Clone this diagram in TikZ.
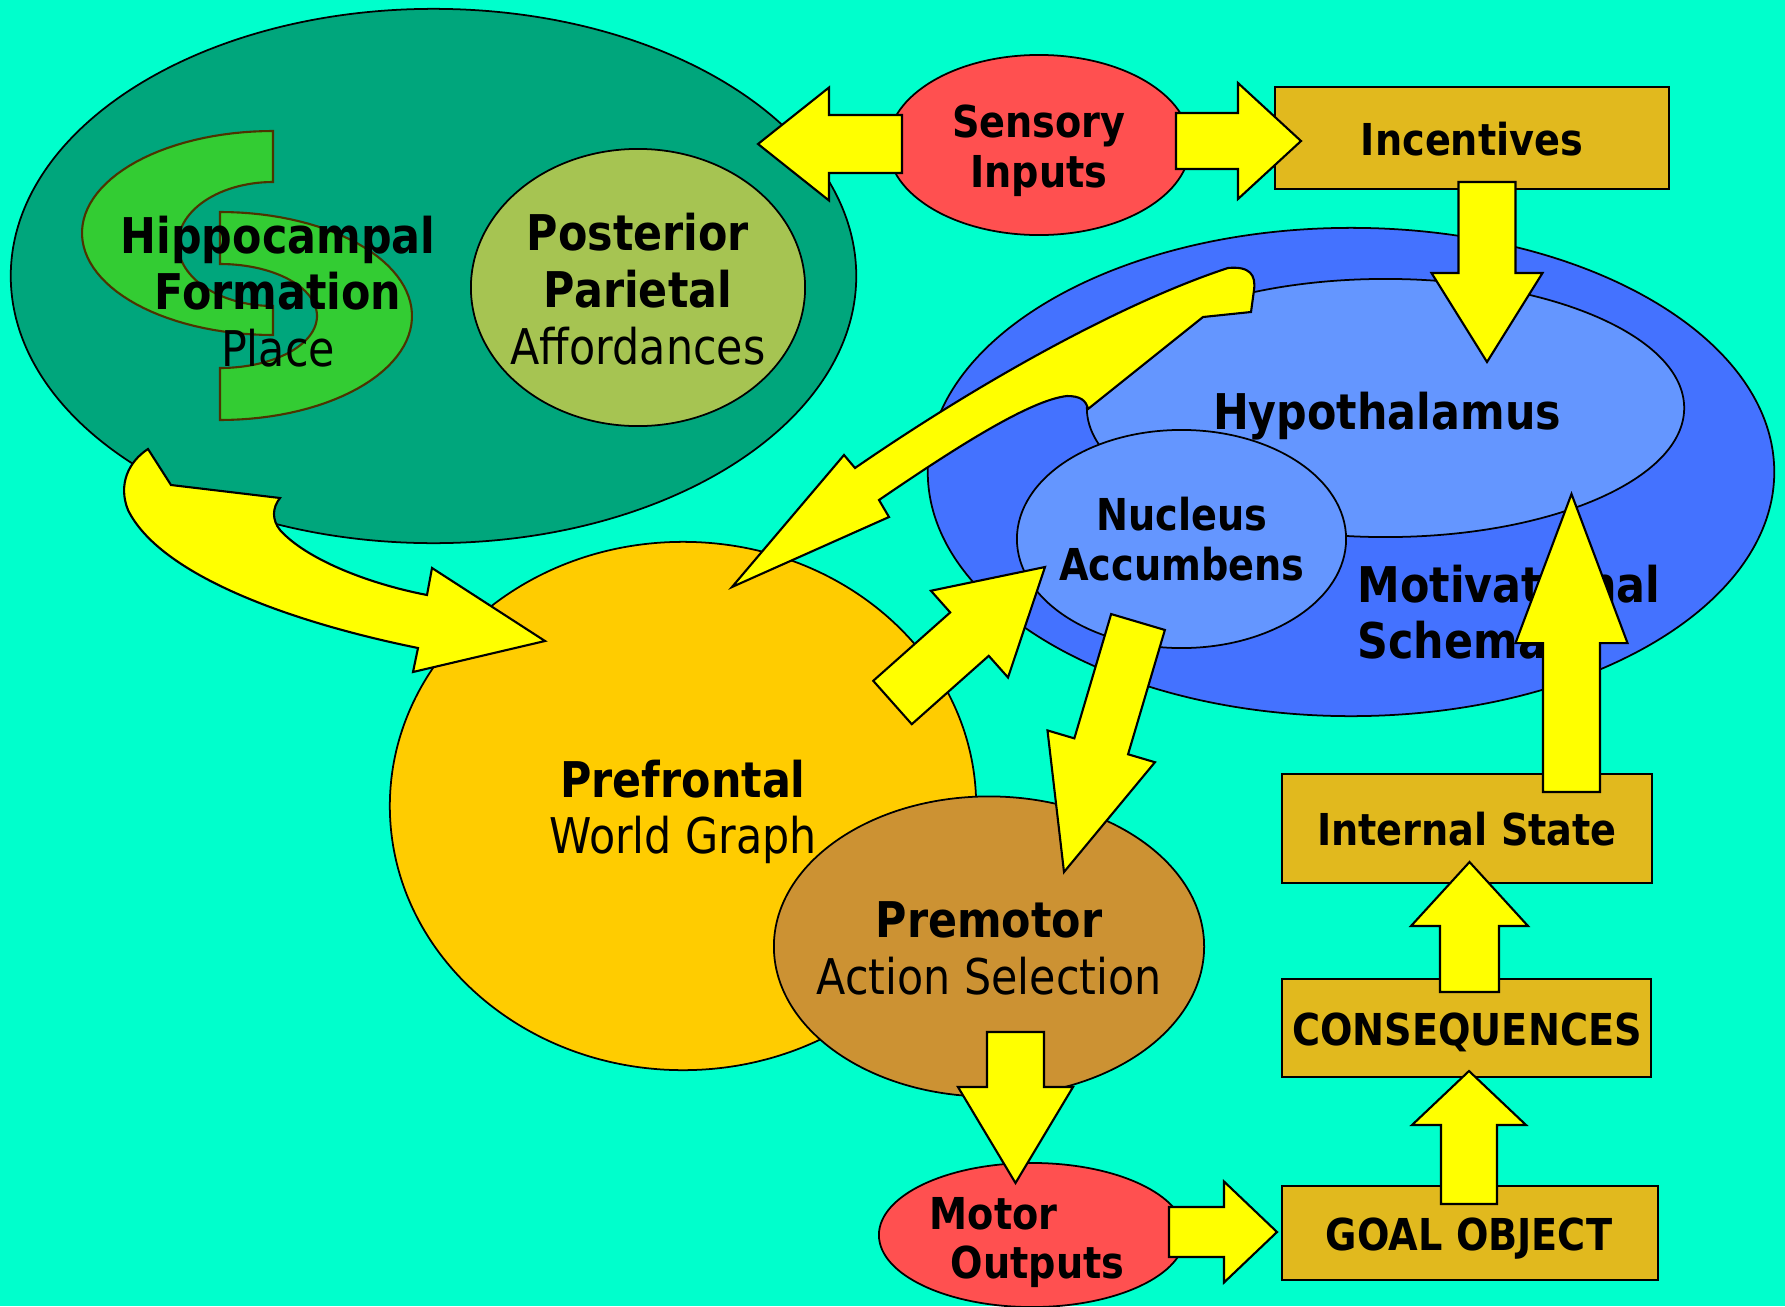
\documentclass[tikz,border=0pt]{standalone}
\usepackage{fontspec}
\setmainfont{DejaVu Sans}[FakeStretch=0.87]
\usetikzlibrary{shapes.geometric,calc}

\definecolor{bgc}{RGB}{0,255,204}
\definecolor{hippoc}{RGB}{0,166,124}
\definecolor{sgreen}{RGB}{51,204,51}
\definecolor{sline}{RGB}{77,51,0}
\definecolor{parc}{RGB}{166,196,82}
\definecolor{redc}{RGB}{255,80,80}
\definecolor{goldc}{RGB}{225,185,30}
\definecolor{blueo}{RGB}{68,114,255}
\definecolor{bluei}{RGB}{100,150,255}
\definecolor{pfc}{RGB}{255,204,0}
\definecolor{pmc}{RGB}{204,146,51}
\definecolor{yel}{RGB}{255,255,0}

\tikzset{
  blob/.style={ellipse, draw=black, line width=0.5pt, inner sep=0pt},
  box/.style={rectangle, draw=black, line width=0.5pt, fill=goldc, inner sep=0pt},
  blockarrow/.style={draw=black, line width=0.6pt, fill=yel, line join=miter},
  sshape/.style={draw=sline, line width=0.6pt, fill=sgreen},
  lbl/.style={anchor=base, inner sep=0pt, text=black},
  big/.style={lbl, font=\fontsize{14}{16}\selectfont\bfseries},
  bigreg/.style={lbl, font=\fontsize{14}{16}\selectfont},
  small/.style={lbl, font=\fontsize{12.5}{15}\selectfont\bfseries},
}

% straight block arrow: tail centre, tip, half shaft width, half head width, head length
\newcommand\blockarrow[5]{%
  \coordinate (ba-h) at ($(#2)!#5!(#1)$);
  \draw[blockarrow] ($(#1)!#3!90:(#2)$) -- ($(ba-h)!#3!-90:(#1)$)
    -- ($(ba-h)!#4!-90:(#1)$) -- (#2) -- ($(ba-h)!#4!90:(#1)$)
    -- ($(ba-h)!#3!90:(#1)$) -- ($(#1)!#3!-90:(#2)$) -- cycle;
}

\begin{document}
\begin{tikzpicture}[x=0.01cm, y=-0.01cm]
\useasboundingbox (0,0) rectangle (1785,1306);
\fill[bgc] (0,0) rectangle (1785,1306);

% hippocampal / parietal region
\node[blob, fill=hippoc, minimum width=8.45cm, minimum height=5.34cm] (hippo) at (433.5,276) {};
\draw[sshape] (273,131) -- plot[domain=90:270, samples=60] ({273+191*cos(\x)},{233-102*sin(\x)})
  -- (273,306) -- plot[domain=90:270, samples=60] ({273+95*cos(\x)},{244+62*sin(\x)}) -- cycle;
\draw[sshape] (220,212) -- plot[domain=-90:90, samples=60] ({220+192*cos(\x)},{316+104*sin(\x)})
  -- (220,368) -- plot[domain=-90:90, samples=60] ({220+97*cos(\x)},{316-52*sin(\x)}) -- cycle;
\node[blob, fill=parc, minimum width=3.34cm, minimum height=2.77cm] (parietal) at (638,287.5) {};

% sensory input and incentives
\node[blob, fill=redc, minimum width=3.02cm, minimum height=1.80cm] (sensory) at (1039,145) {};
\node[box, minimum width=3.94cm, minimum height=1.02cm] (incent) at (1472,138) {};

% motivational schema
\node[blob, fill=blueo, minimum width=8.46cm, minimum height=4.88cm] (motiv) at (1351,472) {};
\node[blob, fill=bluei, minimum width=5.97cm, minimum height=2.58cm] (hypo) at (1385.5,408) {};
\node[blob, fill=bluei, minimum width=3.29cm, minimum height=2.18cm] (nucleus) at (1181.5,539) {};

% prefrontal and premotor
\node[blob, fill=pfc, minimum width=5.86cm, minimum height=5.28cm] (prefrontal) at (683,806) {};
\node[blob, fill=pmc, minimum width=4.30cm, minimum height=3.00cm] (premotor) at (989,946.5) {};

% outputs and consequences
\node[blob, fill=redc, minimum width=3.06cm, minimum height=1.44cm] (motor) at (1032,1235) {};
\node[box, minimum width=3.70cm, minimum height=1.09cm] (internal) at (1467,828.5) {};
\node[box, minimum width=3.69cm, minimum height=0.98cm] (conseq) at (1466.5,1028) {};
\node[box, minimum width=3.76cm, minimum height=0.94cm] (goal) at (1470,1233) {};

% labels
\node[big] (t-hip1) at (278,253) {Hippocampal};
\node[big] (t-hip2) at (278,309) {Formation};
\node[bigreg] (t-hip3) at (278,366) {Place};
\node[big] (t-par1) at (638,250) {Posterior};
\node[big] (t-par2) at (638,307) {Parietal};
\node[bigreg] (t-par3) at (638,364) {Affordances};
\node[small] (t-sen1) at (1039,137) {Sensory};
\node[small] (t-sen2) at (1039,187) {Inputs};
\node[small] (t-inc) at (1472,155) {Incentives};
\node[big] (t-hyp) at (1387,429) {Hypothalamus};
\node[small] (t-nuc1) at (1182,530) {Nucleus};
\node[small] (t-nuc2) at (1182,580) {Accumbens};
\node[big, anchor=base west] (t-mot1) at (1357,602) {Motivational};
\node[big, anchor=base west] (t-mot2) at (1357,658) {Schema};
\node[big] (t-pf1) at (683,797) {Prefrontal};
\node[bigreg] (t-pf2) at (683,853) {World Graph};
\node[big] (t-pm1) at (989,937) {Premotor};
\node[bigreg] (t-pm2) at (989,994) {Action Selection};
\node[small, anchor=base west] (t-mo1) at (929,1229) {Motor};
\node[small, anchor=base west] (t-mo2) at (950,1278) {Outputs};
\node[small] (t-int) at (1467,845) {Internal State};
\node[small] (t-con) at (1467,1045) {CONSEQUENCES};
\node[small] (t-goal) at (1469,1250) {GOAL OBJECT};

% curved arrow: hippocampal formation to prefrontal
\draw[blockarrow] (148,449) -- (171,485) -- (280,498)
  .. controls (272,508) and (272,520) .. (280,530)
  .. controls (305,558) and (365,583) .. (427,595)
  -- (432,568) -- (545,641) -- (413,672) -- (418,648)
  .. controls (290,622) and (160,575) .. (128,510)
  .. controls (118,485) and (128,462) .. (148,449) -- cycle;

% curved arrow: hypothalamus to prefrontal
\draw[blockarrow] (1228,268)
  .. controls (1250,266) and (1256,275) .. (1254,290)
  -- (1251,312) -- (1203,317) -- (1088,409)
  .. controls (1086,400) and (1080,396) .. (1067,396)
  .. controls (1030,400) and (955,448) .. (879,500)
  -- (889,517) -- (732,587) -- (844,455) -- (855,468)
  .. controls (990,375) and (1130,300) .. (1228,268) -- cycle;

% straight block arrows
\coordinate (a1t) at (902,144);   \coordinate (a1h) at (758,144);
\coordinate (a2t) at (1176,141);  \coordinate (a2h) at (1301,141);
\coordinate (a3t) at (1487,182);  \coordinate (a3h) at (1487,362);
\coordinate (a4t) at (892.5,702.5); \coordinate (a4h) at (1045,567);
\coordinate (a5t) at (1138,622);  \coordinate (a5h) at (1064,872);
\coordinate (a6t) at (1015.5,1032); \coordinate (a6h) at (1015.5,1183);
\coordinate (a7t) at (1169,1232); \coordinate (a7h) at (1277,1232);
\coordinate (a8t) at (1469,1204); \coordinate (a8h) at (1469,1071);
\coordinate (a9t) at (1469.5,992); \coordinate (a9h) at (1469.5,862);
\coordinate (a10t) at (1571.5,792); \coordinate (a10h) at (1571.5,494);

\blockarrow{a1t}{a1h}{0.29cm}{0.565cm}{0.71cm}
\blockarrow{a2t}{a2h}{0.28cm}{0.58cm}{0.63cm}
\blockarrow{a3t}{a3h}{0.285cm}{0.555cm}{0.89cm}
\blockarrow{a4t}{a4h}{0.29cm}{0.58cm}{1.01cm}
\blockarrow{a5t}{a5h}{0.28cm}{0.56cm}{1.31cm}
\blockarrow{a6t}{a6h}{0.285cm}{0.575cm}{0.96cm}
\blockarrow{a7t}{a7h}{0.25cm}{0.505cm}{0.53cm}
\blockarrow{a8t}{a8h}{0.28cm}{0.57cm}{0.54cm}
\blockarrow{a9t}{a9h}{0.295cm}{0.585cm}{0.64cm}
\blockarrow{a10t}{a10h}{0.285cm}{0.56cm}{1.49cm}
\end{tikzpicture}
\end{document}
